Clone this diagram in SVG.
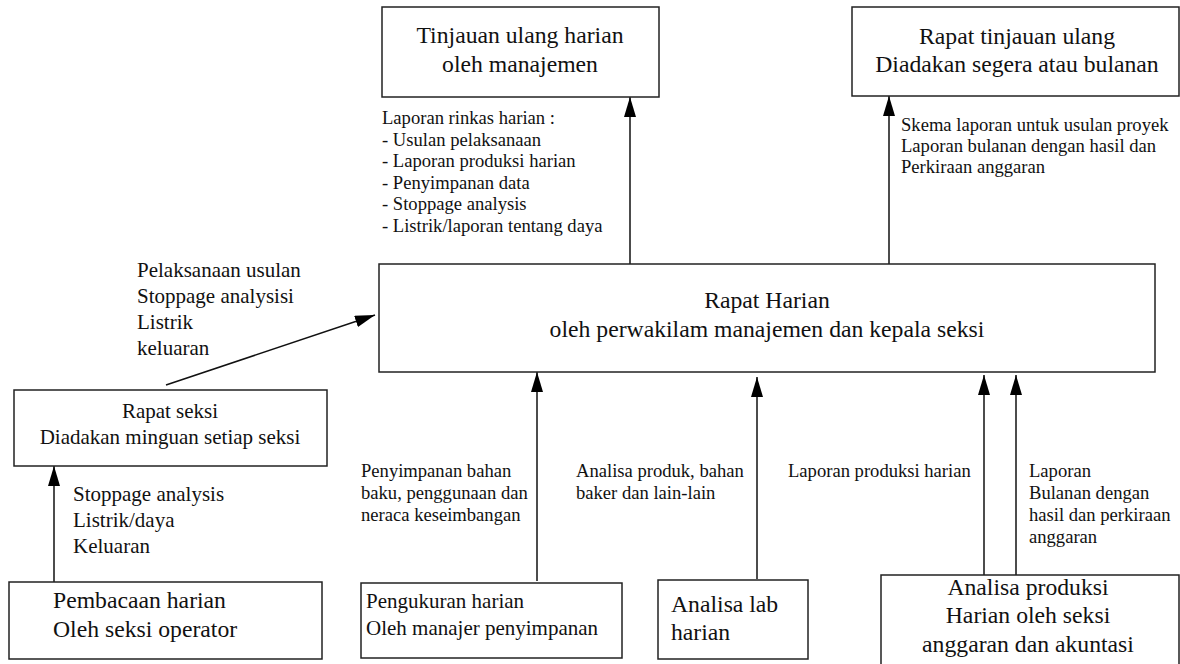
<svg xmlns="http://www.w3.org/2000/svg" width="1180" height="664" viewBox="0 0 1180 664">
<style>
.box{fill:#fff;stroke:#222;stroke-width:1.5}
.t{font-family:"Liberation Serif","Times New Roman",serif;fill:#111}
.big{font-size:23.7px}
.mid{font-size:21px}
.sm{font-size:18.6px}
.c{text-anchor:middle}
.con{stroke:#111;stroke-width:1.5;fill:none;marker-end:url(#ah)}
</style>
<defs>
<marker id="ah" markerUnits="userSpaceOnUse" markerWidth="20" markerHeight="12" refX="20" refY="6" orient="auto">
<path d="M0,0 L20,6 L0,12 z" fill="#000"/>
</marker>
</defs>
<rect width="1180" height="664" fill="#fff"/>
<g id="connectors">
<line class="con" x1="54" y1="582" x2="54" y2="466"/>
<line class="con" x1="166" y1="385" x2="375" y2="315"/>
<line class="con" x1="630" y1="264" x2="630" y2="97"/>
<line class="con" x1="889" y1="264" x2="889" y2="96"/>
<line class="con" x1="537" y1="581" x2="537" y2="372"/>
<line class="con" x1="757" y1="579" x2="757" y2="377"/>
<line class="con" x1="984" y1="575" x2="984" y2="375"/>
<line class="con" x1="1016" y1="575" x2="1016" y2="375"/>
</g>
<g id="labels">
<text class="t sm"><tspan x="382" y="124">Laporan rinkas harian :</tspan><tspan x="382" y="145.5">- Usulan pelaksanaan</tspan><tspan x="382" y="167">- Laporan produksi harian</tspan><tspan x="382" y="188.5">- Penyimpanan data</tspan><tspan x="382" y="210">- Stoppage analysis</tspan><tspan x="382" y="231.5">- Listrik/laporan tentang daya</tspan></text>
<text class="t sm"><tspan x="901" y="131">Skema laporan untuk usulan proyek</tspan><tspan x="901" y="152">Laporan bulanan dengan hasil dan</tspan><tspan x="901" y="173">Perkiraan anggaran</tspan></text>
<text class="t mid"><tspan x="137" y="277">Pelaksanaan usulan</tspan><tspan x="137" y="303">Stoppage analysisi</tspan><tspan x="137" y="329">Listrik</tspan><tspan x="137" y="355">keluaran</tspan></text>
<text class="t mid"><tspan x="73" y="501">Stoppage analysis</tspan><tspan x="73" y="527">Listrik/daya</tspan><tspan x="73" y="553">Keluaran</tspan></text>
<text class="t sm"><tspan x="361" y="477">Penyimpanan bahan</tspan><tspan x="361" y="499">baku, penggunaan dan</tspan><tspan x="361" y="521">neraca keseimbangan</tspan></text>
<text class="t sm"><tspan x="576" y="477">Analisa produk, bahan</tspan><tspan x="576" y="499">baker dan lain-lain</tspan></text>
<text class="t sm"><tspan x="788" y="477">Laporan produksi harian</tspan></text>
<text class="t sm"><tspan x="1029" y="477">Laporan</tspan><tspan x="1029" y="499">Bulanan dengan</tspan><tspan x="1029" y="521">hasil dan perkiraan</tspan><tspan x="1029" y="543">anggaran</tspan></text>
</g>
<g id="tinjauan">
<rect class="box" x="382" y="7" width="277" height="90"/>
<text class="t big c"><tspan x="520" y="43">Tinjauan ulang harian</tspan><tspan x="520" y="72">oleh manajemen</tspan></text>
</g>
<g id="rapat-tinjauan">
<rect class="box" x="852" y="7" width="327" height="89"/>
<text class="t big c"><tspan x="1017" y="44">Rapat tinjauan ulang</tspan><tspan x="1017" y="72">Diadakan segera atau bulanan</tspan></text>
</g>
<g id="rapat-harian">
<rect class="box" x="379" y="264" width="776" height="108"/>
<text class="t big c"><tspan x="767" y="308">Rapat Harian</tspan><tspan x="767" y="337">oleh perwakilam manajemen dan kepala seksi</tspan></text>
</g>
<g id="rapat-seksi">
<rect class="box" x="14" y="390" width="313" height="76"/>
<text class="t mid c"><tspan x="170" y="418">Rapat seksi</tspan><tspan x="170" y="444">Diadakan minguan setiap seksi</tspan></text>
</g>
<g id="pembacaan">
<rect class="box" x="9" y="582" width="313" height="77"/>
<text class="t big"><tspan x="53" y="608">Pembacaan harian</tspan><tspan x="53" y="637">Oleh seksi operator</tspan></text>
</g>
<g id="pengukuran">
<rect class="box" x="361" y="583" width="261" height="75"/>
<text class="t mid"><tspan x="366" y="608">Pengukuran harian</tspan><tspan x="366" y="635">Oleh manajer penyimpanan</tspan></text>
</g>
<g id="analisa-lab">
<rect class="box" x="658" y="580" width="150" height="79"/>
<text class="t big"><tspan x="671" y="612">Analisa lab</tspan><tspan x="671" y="640">harian</tspan></text>
</g>
<g id="analisa-produksi">
<rect class="box" x="881" y="575" width="298" height="100"/>
<text class="t big c"><tspan x="1028" y="595">Analisa produksi</tspan><tspan x="1028" y="623">Harian oleh seksi</tspan><tspan x="1028" y="652">anggaran dan akuntasi</tspan></text>
</g>
</svg>
